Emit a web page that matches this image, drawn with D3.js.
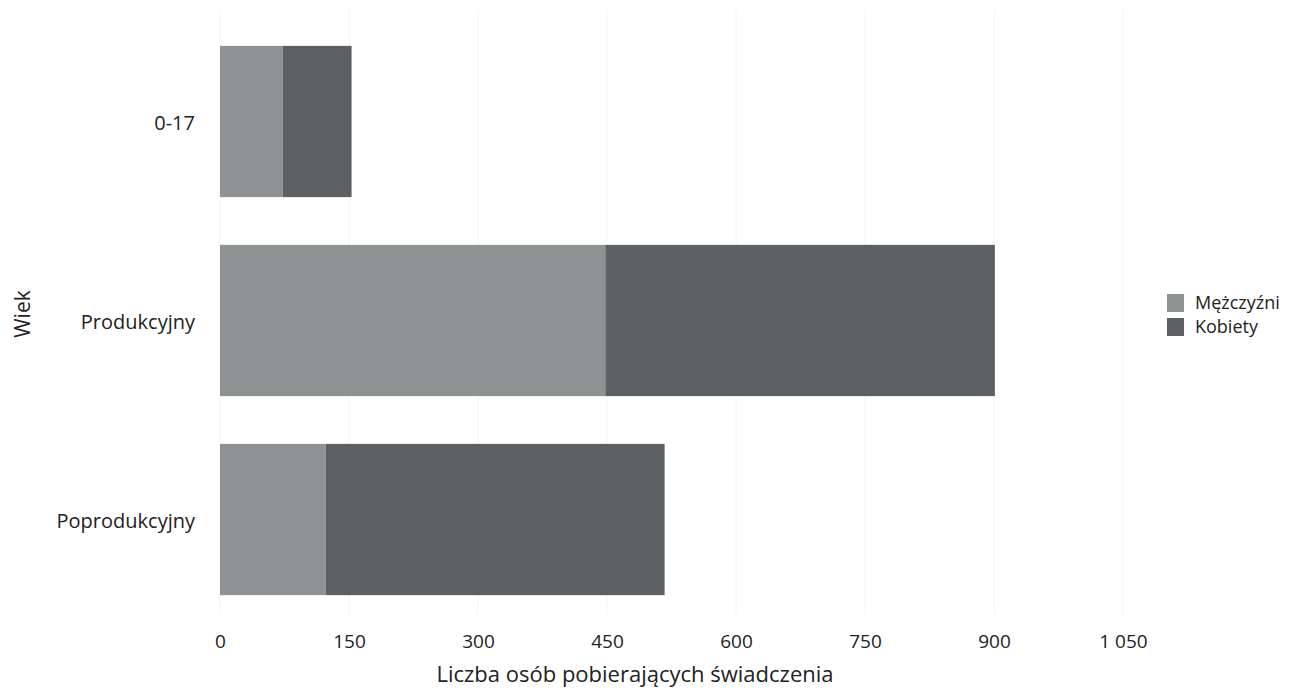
<!DOCTYPE html>
<html><head><meta charset="utf-8">
<script src="https://cdn.jsdelivr.net/npm/d3@7"></script>
<style>body{margin:0;background:#fff;} text{font-family:"Open Sans",sans-serif;fill:#222;}</style>
</head><body>
<svg id="c" width="1301" height="697"></svg>
<script>
const categories = ["0-17", "Produkcyjny", "Poprodukcyjny"];
const seriesNames = ["Mężczyźni", "Kobiety"];
const men = [73, 448, 123];
const women = [80, 453, 394];
const tickValues = [0, 150, 300, 450, 600, 750, 900, 1050];
const xTitle = "Liczba osób pobierających świadczenia";
const yTitle = "Wiek";
const colors = ["#8e9293", "#5c6063"];

const svg = d3.select("#c");
const x = d3.scaleLinear().domain([0, 1050]).range([220, 1123]);
const y = d3.scaleBand().domain(categories).range([22, 619]).paddingInner(0.24).paddingOuter(0.12);

// faint gridlines
svg.append("g").selectAll("line").data(tickValues).join("line")
  .attr("x1", d => x(d)).attr("x2", d => x(d)).attr("y1", 10).attr("y2", 615)
  .attr("stroke", "#f4f4f4").attr("stroke-width", 1);

const data = categories.map((c, i) => ({cat: c, "Mężczyźni": men[i], "Kobiety": women[i]}));
const stack = d3.stack().keys(seriesNames)(data);

svg.append("g").selectAll("g").data(stack).join("g")
  .attr("fill", (d, i) => colors[i])
  .selectAll("rect").data(d => d).join("rect")
  .attr("x", d => x(d[0])).attr("width", d => x(d[1]) - x(d[0]))
  .attr("y", d => y(d.data.cat)).attr("height", y.bandwidth());

// x axis
const xa = svg.append("g").attr("transform", "translate(0,626)")
  .call(d3.axisBottom(x).tickValues(tickValues).tickSize(0)
    .tickFormat(d => d3.format(",")(d).replace(/,/g, " ")));
xa.select(".domain").remove();
xa.selectAll("text").attr("font-size", 19).attr("dy", "1.0em").style("font-family", "Open Sans").attr("fill", "#222");

// y axis
const ya = svg.append("g").attr("transform", "translate(195,2)")
  .call(d3.axisLeft(y).tickSize(0).tickPadding(0));
ya.select(".domain").remove();
ya.selectAll("text").attr("font-size", 20).style("font-family", "Open Sans").attr("fill", "#222");

svg.append("text").attr("x", 635).attr("y", 682).attr("text-anchor", "middle")
  .attr("font-size", 22).text(xTitle);
svg.append("text").attr("transform", "translate(30,314) rotate(-90)").attr("text-anchor", "middle")
  .attr("font-size", 21).text(yTitle);

// legend
const lg = svg.append("g").attr("transform", "translate(1167,294)");
seriesNames.forEach((s, i) => {
  lg.append("rect").attr("x", 0).attr("y", i * 24).attr("width", 17).attr("height", 18).attr("fill", colors[i]);
  lg.append("text").attr("x", 28).attr("y", i * 24 + 15).attr("font-size", 18).text(s);
});
</script>
</body></html>
